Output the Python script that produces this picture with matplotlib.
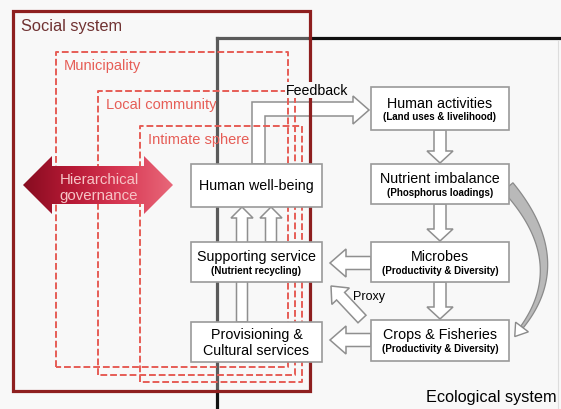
import numpy as np
import matplotlib.pyplot as plt
from matplotlib.patches import Polygon, Rectangle
from matplotlib.colors import LinearSegmentedColormap

plt.rcParams['font.family'] = ['Liberation Sans', 'DejaVu Sans']

# texts of the diagram
social_label = 'Social system'
eco_label = 'Ecological system'
scales = ['Municipality', 'Local community', 'Intimate sphere']
governance = 'Hierarchical\ngovernance'
service_titles = ['Human well-being', 'Supporting service', 'Provisioning &\nCultural services']
service_subs = ['', '(Nutrient recycling)', '']
eco_titles = ['Human activities', 'Nutrient imbalance', 'Microbes', 'Crops & Fisheries']
eco_subs = ['(Land uses & livelihood)', '(Phosphorus loadings)',
            '(Productivity & Diversity)', '(Productivity & Diversity)']
feedback_label = 'Feedback'
proxy_label = 'Proxy'

# layout (pixels, y down)
W, H = 561, 410
left_box_x = (191, 322)
right_box_x = (371, 509)
left_box_y = [(165, 208), (243, 283), (323, 363)]
right_box_y = [(88, 131), (165, 205), (243, 283), (321, 362)]
scale_rects = [(56, 53, 288, 368), (98, 92, 295, 376), (140, 127, 302, 383)]

BOX_EDGE = '#9a9a9a'
ARROW_EDGE = '#8f8f8f'
DASH_RED = '#e65d56'
TITLE_FS = 10.3
SUB_FS = 7.0


def block_arrow(p0, p1, shaft, head_w, head_l):
    p0 = np.array(p0, float)
    p1 = np.array(p1, float)
    u = (p1 - p0) / np.linalg.norm(p1 - p0)
    n = np.array([-u[1], u[0]])
    base = p1 - u * head_l
    return [p0 + n * shaft / 2, base + n * shaft / 2, base + n * head_w / 2, p1,
            base - n * head_w / 2, base - n * shaft / 2, p0 - n * shaft / 2]


fig = plt.figure(figsize=(W / 100, H / 100), dpi=100, facecolor='#f8f8f8')
ax = fig.add_axes([0, 0, 1, 1])
ax.set_facecolor('#f8f8f8')
ax.axis('off')

# ecological system frame
ax.plot([217, 310], [39, 39], color='#5a5a5a', lw=2.3, solid_capstyle='projecting', zorder=1)
ax.plot([310, W], [39, 39], color='#111111', lw=2.3, solid_capstyle='projecting', zorder=1)
ax.plot([217, 217], [39, 392], color='#5a5a5a', lw=2.3, solid_capstyle='projecting', zorder=1)
ax.plot([217, 217], [392, H], color='#111111', lw=2.3, solid_capstyle='projecting', zorder=1)
ax.plot([558, 558], [42, H], color='#dddddd', lw=0.8, zorder=1)

# feedback arrow (hollow, L shaped)
fb = [(252, 165), (252, 103), (353, 103), (353, 97), (369, 111), (353, 125),
      (353, 117), (265, 117), (265, 165)]
ax.add_patch(Polygon(fb, closed=True, facecolor='#ffffff', edgecolor=ARROW_EDGE, lw=1.1, zorder=1.5))

# social system frame and nested scales
ax.add_patch(Rectangle((13, 12), 297, 380, fill=False, edgecolor='#8e1f1f', lw=2.3, zorder=2))
for (x0, y0, x1, y1) in scale_rects:
    ax.plot([x0, x0, x1, x1, x0], [y1, y0, y0, y1, y1], color=DASH_RED, lw=1.4,
            ls=(0, (3.5, 1.5)), zorder=2)
for (x0, y0, x1, y1), lab in zip(scale_rects, scales):
    ax.text(x0 + 8, y0 + 13, lab, color=DASH_RED, fontsize=10.5, va='center', ha='left', zorder=5)

ax.text(21, 26, social_label, color='#703232', fontsize=11.8, va='center', ha='left', zorder=5)

# hierarchical governance double arrow with gradient
gov = [(23, 186), (52, 157), (52, 167), (144, 167), (144, 157), (173, 186),
       (144, 215), (144, 205), (52, 205), (52, 215)]
gov_patch = Polygon(gov, closed=True, facecolor='none', edgecolor='none', zorder=3)
ax.add_patch(gov_patch)
cmap = LinearSegmentedColormap.from_list('gov', ['#860c20', '#b81a36', '#d93a55', '#e8687a'])
grad = np.linspace(0, 1, 256).reshape(1, -1)
im = ax.imshow(grad, extent=(23, 173, 215, 157), aspect='auto', cmap=cmap, zorder=3)
im.set_clip_path(gov_patch)
ax.text(99, 188, governance, color='#f6c4c6', fontsize=10.8, ha='center', va='center',
        linespacing=1.2, zorder=5)

# hollow arrows
arrows = [
    block_arrow((440, 131), (440, 164), 12, 26, 12),
    block_arrow((440, 205), (440, 242), 12, 26, 12),
    block_arrow((440, 283), (440, 320), 12, 26, 12),
    block_arrow((371, 264), (330, 264), 13, 28, 16),
    block_arrow((371, 341), (330, 341), 13, 28, 16),
    block_arrow((242, 323), (242, 208), 11, 22, 11),
    block_arrow((271, 243), (271, 208), 11, 22, 11),
    block_arrow((362, 320), (331, 287), 11, 24, 14),
]
for pts in arrows:
    ax.add_patch(Polygon(pts, closed=True, facecolor='#ffffff', edgecolor=ARROW_EDGE, lw=1.1, zorder=3))

# curved arrow from nutrient imbalance to crops
P0, P1, P2 = np.array([508, 188.]), np.array([572, 262.]), np.array([522, 328.])
t = np.linspace(0, 1, 80)[:, None]
curve = (1 - t) ** 2 * P0 + 2 * (1 - t) * t * P1 + t ** 2 * P2
tang = 2 * (1 - t) * (P1 - P0) + 2 * t * (P2 - P1)
tang = tang / np.linalg.norm(tang, axis=1)[:, None]
norm = np.column_stack([-tang[:, 1], tang[:, 0]])
width = (13 - 10 * t[:, 0])[:, None]
body = np.vstack([curve + norm * width / 2, (curve - norm * width / 2)[::-1]])
ax.add_patch(Polygon(body, closed=True, facecolor='#b9b9b9', edgecolor='#8a8a8a', lw=0.9, zorder=3))
u_end = tang[-1]
n_end = norm[-1]
tip = P2 + u_end * 12
head = [P2 + n_end * 8, tip, P2 - n_end * 8]
ax.add_patch(Polygon(head, closed=True, facecolor='#ffffff', edgecolor='#8a8a8a', lw=1.0, zorder=3))

# boxes
for (y0, y1), title, sub in zip(left_box_y, service_titles, service_subs):
    x0, x1 = left_box_x
    ax.add_patch(Rectangle((x0, y0), x1 - x0, y1 - y0, facecolor='#ffffff',
                           edgecolor=BOX_EDGE, lw=1.2, zorder=4))
    cx, cy = (x0 + x1) / 2, (y0 + y1) / 2
    if sub:
        ax.text(cx, cy - 6, title, fontsize=TITLE_FS, ha='center', va='center', zorder=5)
        ax.text(cx, cy + 8, sub, fontsize=SUB_FS, fontweight='bold', ha='center', va='center', zorder=5)
    else:
        ax.text(cx, cy, title, fontsize=TITLE_FS, ha='center', va='center', linespacing=1.2, zorder=5)

for (y0, y1), title, sub in zip(right_box_y, eco_titles, eco_subs):
    x0, x1 = right_box_x
    ax.add_patch(Rectangle((x0, y0), x1 - x0, y1 - y0, facecolor='#ffffff',
                           edgecolor=BOX_EDGE, lw=1.2, zorder=4))
    cx, cy = (x0 + x1) / 2, (y0 + y1) / 2
    ax.text(cx, cy - 6, title, fontsize=TITLE_FS, ha='center', va='center', zorder=5)
    ax.text(cx, cy + 8, sub, fontsize=SUB_FS, fontweight='bold', ha='center', va='center', zorder=5)

ax.text(286, 91, feedback_label, fontsize=10.2, ha='left', va='center', zorder=5,
        bbox=dict(boxstyle='square,pad=0.1', facecolor='#f8f8f8', edgecolor='none'))
ax.text(353, 297, proxy_label, fontsize=9, ha='left', va='center', zorder=5)
ax.text(557, 398, eco_label, fontsize=11.7, ha='right', va='center', zorder=5)

ax.set_xlim(0, W)
ax.set_ylim(H, 0)
fig.savefig('out.png', dpi=100, facecolor=fig.get_facecolor())
